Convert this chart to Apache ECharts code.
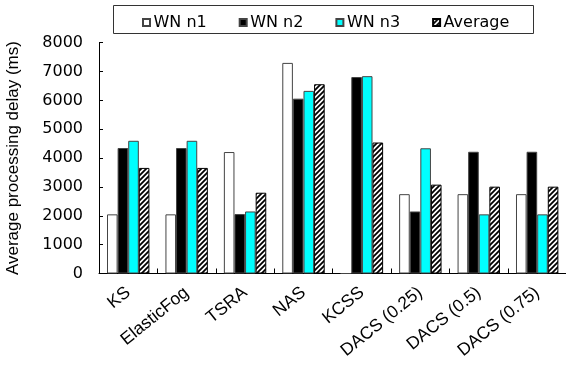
<!DOCTYPE html>
<html><head><meta charset="utf-8">
<script src="https://cdn.jsdelivr.net/npm/echarts@6.0.0/dist/echarts.min.js"></script>
<style>html,body{margin:0;padding:0;background:#fff}#c{width:566px;height:379px}</style>
</head><body><div id="c"></div>
<script>
const categories = ['KS', 'ElasticFog', 'TSRA', 'NAS', 'KCSS', 'DACS (0.25)', 'DACS (0.5)', 'DACS (0.75)'];
const wnN1 = [2050, 2050, 4210, 7300, 0, 2750, 2750, 2750];
const wnN2 = [4350, 4350, 2060, 6060, 6810, 2150, 4220, 4220];
const wnN3 = [4600, 4600, 2150, 6330, 6840, 4340, 2050, 2050];
const average = [3660, 3660, 2800, 6560, 4540, 3080, 3010, 3010];
const seriesNames = ['WN n1', 'WN n2', 'WN n3', 'Average'];
const yMin = 0, yMax = 8000, yStep = 1000;

const WIDE = 'DejaVu Sans';
const ARIAL = 'Liberation Sans';

function hatch() {
  const s = 5, c = document.createElement('canvas');
  c.width = s; c.height = s;
  const g = c.getContext('2d');
  g.fillStyle = '#fff'; g.fillRect(0, 0, s, s);
  g.strokeStyle = '#000'; g.lineWidth = 1.8; g.beginPath();
  g.moveTo(0, s); g.lineTo(s, 0);
  g.moveTo(-1, 1); g.lineTo(1, -1);
  g.moveTo(s - 1, s + 1); g.lineTo(s + 1, s - 1);
  g.stroke();
  return c;
}

const styles = [
  { color: '#ffffff', borderColor: '#444', borderWidth: 1 },
  { color: '#000000', borderColor: '#444', borderWidth: 1 },
  { color: '#00ffff', borderColor: '#444', borderWidth: 1 },
  { color: { image: hatch(), repeat: 'repeat' }, borderColor: '#000', borderWidth: 1 }
];
const values = [wnN1, wnN2, wnN3, average];

const chart = echarts.init(document.getElementById('c'), null, { renderer: 'canvas' });
chart.setOption({
  animation: false,
  backgroundColor: '#fff',
  textStyle: { fontFamily: ARIAL },
  grid: { left: 99, top: 42.7, width: 467.4, height: 230.8, containLabel: false, outerBoundsMode: 'none' },
  legend: {
    left: 142, top: 14.5, padding: 0,
    itemWidth: 7, itemHeight: 7, itemGap: 32,
    icon: 'rect',
    textStyle: { fontSize: 16, color: '#000', fontFamily: WIDE, padding: [0, 0, 0, -1.5] },
    data: seriesNames
  },
  graphic: [{
    type: 'rect', silent: true,
    shape: { x: 113.5, y: 5.5, width: 420, height: 28 },
    style: { fill: 'none', stroke: '#333', lineWidth: 1 }
  }],
  xAxis: {
    type: 'category', data: categories, boundaryGap: true,
    axisLine: { lineStyle: { color: '#000', width: 1 } },
    axisTick: { show: true, inside: true, length: 5, lineStyle: { color: '#000' } },
    axisLabel: { rotate: 39, interval: 0, fontSize: 17.5, color: '#000', fontFamily: ARIAL, margin: 17 }
  },
  yAxis: {
    type: 'value', min: yMin, max: yMax, interval: yStep,
    name: 'Average processing delay (ms)', nameLocation: 'middle', nameGap: 77,
    nameTextStyle: { fontSize: 17, color: '#000', fontFamily: ARIAL },
    axisLine: { show: true, lineStyle: { color: '#000', width: 1 } },
    axisTick: { show: true, inside: true, length: 4, lineStyle: { color: '#000' } },
    splitLine: { show: false },
    axisLabel: { fontSize: 16, color: '#000', fontFamily: WIDE, margin: 16, formatter: v => String(v) }
  },
  series: seriesNames.map((n, i) => ({
    name: n, type: 'bar', data: values[i],
    barWidth: 10.6, barGap: '0%',
    itemStyle: styles[i]
  }))
});
</script></body></html>
